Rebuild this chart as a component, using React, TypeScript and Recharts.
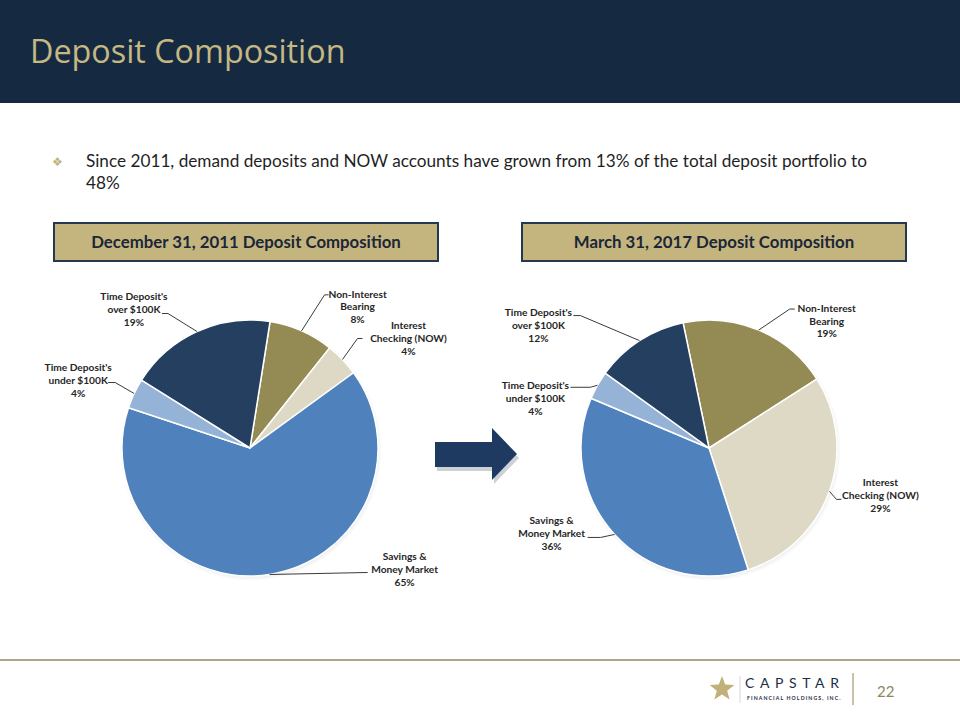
import React from "react";
import { PieChart, Pie, Cell } from "recharts";

// slice order runs clockwise from the top of each pie
const categories = [
  "Non-Interest Bearing",
  "Interest Checking (NOW)",
  "Savings & Money Market",
  "Time Deposit's under $100K",
  "Time Deposit's over $100K",
];
const categoryLines = [
  ["Non-Interest", "Bearing"],
  ["Interest", "Checking (NOW)"],
  ["Savings &", "Money Market"],
  ["Time Deposit's", "under $100K"],
  ["Time Deposit's", "over $100K"],
];
const values2011 = [8.2, 4.3, 65.1, 3.8, 18.6];
const values2017 = [19.2, 29.1, 36.3, 3.6, 11.8];
const pieTitles = ["December 31, 2011 Deposit Composition", "March 31, 2017 Deposit Composition"];
const bulletText = [
  "Since 2011, demand deposits and NOW accounts have grown from 13% of the total deposit portfolio to",
  "48%",
];

const sliceColors = ["#948a54", "#ddd9c4", "#4f81bd", "#95b3d7", "#243f60"];

// leader line elbow / end and text offsets, relative to the slice's outer edge point
type LabelPos = { ex: number; ey: number; lx: number; ly: number; tx: number; ty: number };
const labelPos2011: LabelPos[] = [
  { ex: 23, ey: -36, lx: 27, ly: -36, tx: 56, ty: -37 },
  { ex: 15, ey: -21, lx: 20, ly: -21, tx: 66, ty: -34 },
  { ex: 98, ey: -2, lx: 98, ly: -2, tx: 135, ty: -18 },
  { ex: -19, ey: -11, lx: -26, ly: -11, tx: -56, ty: -26 },
  { ex: -29, ey: -18, lx: -35, ly: -18, tx: -63, ty: -35 },
];
const labelPos2017: LabelPos[] = [
  { ex: 31, ey: -21, lx: 36, ly: -21, tx: 68, ty: -22 },
  { ex: 7, ey: 8, lx: 12, ly: 8, tx: 51, ty: -9 },
  { ex: -14, ey: 3, lx: -27, ly: 3, tx: -63, ty: -14 },
  { ex: -7, ey: 2, lx: -27, ly: 2, tx: -62, ty: 0 },
  { ex: -59, ey: -25, lx: -66, ly: -25, tx: -101, ty: -28 },
];

const RAD = Math.PI / 180;
const labelFont = "Lato, 'Open Sans', sans-serif";

const makeLabel = (layout: LabelPos[], values: number[]) => (props: any) => {
  const { cx, cy, midAngle, outerRadius, index } = props;
  const x0 = cx + outerRadius * Math.cos(-midAngle * RAD);
  const y0 = cy + outerRadius * Math.sin(-midAngle * RAD);
  const p = layout[index];
  const lines = [...categoryLines[index], `${Math.round(values[index])}%`];
  return (
    <g key={`lbl-${index}`}>
      <polyline
        points={`${x0},${y0} ${x0 + p.ex},${y0 + p.ey} ${x0 + p.lx},${y0 + p.ly}`}
        fill="none"
        stroke="#3a3a3a"
        strokeWidth={1}
      />
      <text
        x={x0 + p.tx}
        y={y0 + p.ty + 3.7}
        textAnchor="middle"
        fontFamily={labelFont}
        fontWeight={700}
        fontSize={10.2}
        fill="#262626"
      >
        {lines.map((l, i) => (
          <tspan key={i} x={x0 + p.tx} dy={i === 0 ? 0 : 12.8}>
            {l}
          </tspan>
        ))}
      </text>
    </g>
  );
};

const toData = (values: number[]) => categories.map((name, i) => ({ name, value: values[i] }));

const DepositPie = ({ values, layout, startAngle, cx }: { values: number[]; layout: LabelPos[]; startAngle: number; cx: number }) => (
  <PieChart width={460} height={340} margin={{ top: 0, right: 0, bottom: 0, left: 0 }}>
    <Pie
      data={toData(values)}
      dataKey="value"
      cx={cx}
      cy={178}
      outerRadius={128}
      startAngle={startAngle}
      endAngle={startAngle - 360}
      stroke="#ffffff"
      strokeWidth={1.5}
      labelLine={false}
      label={makeLabel(layout, values)}
      isAnimationActive={false}
    >
      {values.map((_, i) => (
        <Cell key={i} fill={sliceColors[i]} />
      ))}
    </Pie>
  </PieChart>
);

const Star = ({ x, y, r }: { x: number; y: number; r: number }) => {
  const pts: string[] = [];
  for (let i = 0; i < 10; i++) {
    const rr = i % 2 === 0 ? r : r * 0.42;
    const a = (-90 + i * 36) * RAD;
    pts.push(`${x + rr * Math.cos(a)},${y + rr * Math.sin(a)}`);
  }
  return <polygon points={pts.join(" ")} fill="#c2b07a" />;
};

export default function App() {
  return (
    <div
      style={{
        position: "absolute",
        left: 0,
        top: 0,
        width: 960,
        height: 720,
        background: "#ffffff",
        overflow: "hidden",
      }}
    >
      <svg width={960} height={720} style={{ position: "absolute", left: 0, top: 0 }}>
        <defs>
          <radialGradient id="pieShade" cx="50%" cy="50%" r="50%">
            <stop offset="90%" stopColor="#000" stopOpacity={0.18} />
            <stop offset="100%" stopColor="#000" stopOpacity={0} />
          </radialGradient>
        </defs>
        <rect x={0} y={0} width={960} height={103} fill="#152a40" />
        <text x={30} y={63} fontFamily="'Open Sans', sans-serif" fontSize={32.3} fill="#c5b883">
          Deposit Composition
        </text>

        <text x={52} y={166} fontFamily="'DejaVu Sans', sans-serif" fontSize={12} fill="#bfb17c">
          ❖
        </text>
        {bulletText.map((t, i) => (
          <text key={i} x={86} y={167 + i * 22} fontFamily={labelFont} fontSize={17.2} fill="#1f1f1f">
            {t}
          </text>
        ))}

        {pieTitles.map((t, i) => (
          <g key={t}>
            <rect x={54 + i * 468} y={223} width={384} height={38} fill="#c4b57f" stroke="#24384f" strokeWidth={2} />
            <text
              x={246 + i * 468}
              y={248}
              textAnchor="middle"
              fontFamily={labelFont}
              fontWeight={700}
              fontSize={16.8}
              fill="#1b2638"
            >
              {t}
            </text>
          </g>
        ))}

        <circle cx={251} cy={450} r={131} fill="url(#pieShade)" />
        <circle cx={710} cy={450} r={131} fill="url(#pieShade)" />

        <polygon points="437,445 494,445 494,432 519,458 494,484 494,471 437,471" fill="#9aa3b0" opacity={0.5} />
        <polygon points="435,442 492,442 492,428 517,454 492,480 492,467 435,467" fill="#1f3a60" />

        <line x1={0} y1={660} x2={960} y2={660} stroke="#948a5a" strokeWidth={1.5} />
        <Star x={722} y={689} r={13} />
        <line x1={740} y1={676} x2={740} y2={703} stroke="#d6d6d6" strokeWidth={1} />
        <text x={745} y={688} fontFamily={labelFont} fontSize={14} letterSpacing={5.6} fill="#1e2c44">
          CAPSTAR
        </text>
        <text x={747} y={700} fontFamily={labelFont} fontWeight={700} fontSize={5.2} letterSpacing={1.1} fill="#1e2c44">
          FINANCIAL HOLDINGS, INC.
        </text>
        <line x1={853} y1={673} x2={853} y2={705} stroke="#a39a6b" strokeWidth={1.2} />
        <text x={877} y={697} fontFamily={labelFont} fontSize={15} fill="#8c8560">
          22
        </text>
      </svg>

      <div style={{ position: "absolute", left: 20, top: 270 }}>
        <DepositPie values={values2011} layout={labelPos2011} startAngle={81} cx={230} />
      </div>
      <div style={{ position: "absolute", left: 490, top: 270 }}>
        <DepositPie values={values2017} layout={labelPos2017} startAngle={101.7} cx={219} />
      </div>
    </div>
  );
}
